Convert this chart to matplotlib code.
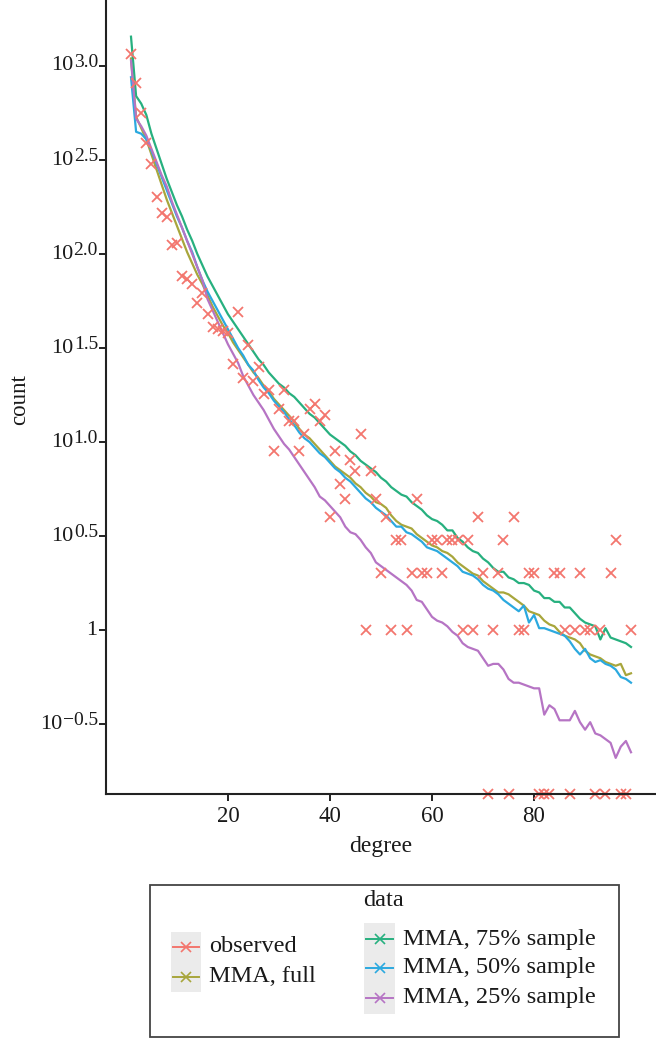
import numpy as np
import matplotlib
matplotlib.use("Agg")
import matplotlib.pyplot as plt
from matplotlib.lines import Line2D
from matplotlib.patches import Rectangle
from matplotlib.transforms import ScaledTranslation

# ---------------- data ----------------
degree = list(range(1, 100))

observed = [1160, 815, 560, 388, 300, 202, 165, 157, 112, 114,
            76, 74, 69, 55, 62, 48, 41, 40, 39, 38,
            26, 49, 22, 33, 21, 25, 18, 19, 9, 15,
            19, 13, 13, 9, 11, 15, 16, 13, 14, 4,
            9, 6, 5, 8, 7, 11, 1, 7, 5, 2,
            4, 1, 3, 3, 1, 2, 5, 2, 2, 3,
            3, 2, 3, 3, 3, 1, 3, 1, 4, 2,
            0, 1, 2, 3, 0, 4, 1, 1, 2, 2,
            0, 0, 0, 2, 2, 1, 0, 1, 2, 1,
            1, 0, 1, 0, 2, 3, 0, 0, 1]

# model expectations, log10(count)
mma_full_log10 = [3.04, 2.73, 2.67, 2.61, 2.53, 2.45, 2.37, 2.29, 2.22, 2.15,
                  2.08, 2.01, 1.95, 1.89, 1.84, 1.78, 1.72, 1.67, 1.62, 1.58,
                  1.53, 1.49, 1.45, 1.41, 1.37, 1.34, 1.30, 1.27, 1.23, 1.20,
                  1.17, 1.14, 1.11, 1.07, 1.04, 1.02, 0.99, 0.96, 0.93, 0.90,
                  0.87, 0.85, 0.83, 0.81, 0.78, 0.76, 0.73, 0.71, 0.68, 0.67,
                  0.65, 0.61, 0.58, 0.56, 0.55, 0.54, 0.51, 0.49, 0.47, 0.45,
                  0.44, 0.42, 0.41, 0.39, 0.36, 0.34, 0.32, 0.30, 0.29, 0.26,
                  0.24, 0.22, 0.20, 0.20, 0.19, 0.17, 0.15, 0.13, 0.10, 0.09,
                  0.08, 0.05, 0.03, 0.02, -0.01, -0.03, -0.04, -0.05, -0.07, -0.11,
                  -0.13, -0.14, -0.15, -0.17, -0.18, -0.19, -0.18, -0.24, -0.23]

mma_75_log10 = [3.156, 2.84, 2.80, 2.74, 2.64, 2.56, 2.48, 2.40, 2.33, 2.26,
                2.20, 2.13, 2.07, 2.00, 1.94, 1.88, 1.83, 1.78, 1.73, 1.68,
                1.64, 1.60, 1.56, 1.52, 1.48, 1.44, 1.41, 1.37, 1.34, 1.31,
                1.29, 1.26, 1.24, 1.21, 1.18, 1.15, 1.13, 1.10, 1.07, 1.04,
                1.02, 1.00, 0.98, 0.95, 0.93, 0.90, 0.88, 0.86, 0.84, 0.81,
                0.79, 0.76, 0.74, 0.72, 0.71, 0.68, 0.66, 0.64, 0.61, 0.59,
                0.58, 0.56, 0.53, 0.53, 0.49, 0.47, 0.44, 0.42, 0.41, 0.38,
                0.36, 0.33, 0.31, 0.31, 0.28, 0.27, 0.25, 0.25, 0.24, 0.21,
                0.20, 0.17, 0.17, 0.15, 0.15, 0.12, 0.12, 0.09, 0.06, 0.04,
                0.03, 0.02, -0.05, 0.01, -0.04, -0.05, -0.06, -0.07, -0.09]

mma_50_log10 = [2.94, 2.65, 2.64, 2.61, 2.55, 2.48, 2.41, 2.34, 2.27, 2.20,
                2.14, 2.07, 2.01, 1.93, 1.86, 1.80, 1.75, 1.70, 1.65, 1.60,
                1.55, 1.50, 1.46, 1.41, 1.38, 1.33, 1.29, 1.26, 1.22, 1.19,
                1.16, 1.12, 1.09, 1.05, 1.02, 1.00, 0.97, 0.94, 0.92, 0.89,
                0.86, 0.84, 0.81, 0.79, 0.76, 0.73, 0.70, 0.68, 0.65, 0.63,
                0.61, 0.58, 0.55, 0.55, 0.52, 0.51, 0.49, 0.47, 0.44, 0.43,
                0.42, 0.40, 0.38, 0.36, 0.34, 0.31, 0.30, 0.29, 0.27, 0.24,
                0.22, 0.21, 0.19, 0.16, 0.14, 0.12, 0.10, 0.13, 0.04, 0.08,
                0.01, 0.01, 0.00, -0.01, -0.02, -0.03, -0.06, -0.10, -0.13, -0.10,
                -0.15, -0.17, -0.16, -0.18, -0.19, -0.21, -0.25, -0.26, -0.28]

mma_25_log10 = [3.03, 2.72, 2.68, 2.63, 2.56, 2.49, 2.42, 2.36, 2.28, 2.21,
                2.14, 2.07, 2.00, 1.93, 1.86, 1.76, 1.70, 1.64, 1.58, 1.52,
                1.47, 1.42, 1.35, 1.30, 1.25, 1.21, 1.17, 1.12, 1.07, 1.03,
                0.99, 0.96, 0.92, 0.88, 0.84, 0.80, 0.76, 0.71, 0.69, 0.66,
                0.63, 0.60, 0.55, 0.52, 0.51, 0.48, 0.44, 0.41, 0.36, 0.34,
                0.32, 0.30, 0.28, 0.26, 0.24, 0.21, 0.16, 0.15, 0.11, 0.07,
                0.05, 0.04, 0.02, -0.01, -0.03, -0.07, -0.09, -0.10, -0.11, -0.15,
                -0.19, -0.18, -0.18, -0.21, -0.26, -0.28, -0.28, -0.29, -0.30, -0.31,
                -0.31, -0.45, -0.40, -0.42, -0.48, -0.48, -0.48, -0.43, -0.49, -0.53,
                -0.49, -0.55, -0.56, -0.58, -0.60, -0.68, -0.62, -0.59, -0.65]

series_labels = ["observed", "MMA, full", "MMA, 75% sample", "MMA, 50% sample", "MMA, 25% sample"]
series_colors = ["#F3766E", "#A8A63C", "#27B07F", "#2BA9DF", "#B674C4"]

xticks = [20, 40, 60, 80]
ytick_exp = [-0.5, 0.0, 0.5, 1.0, 1.5, 2.0, 2.5, 3.0]
ytick_sup = ["\u22120.5", None, "0.5", "1.0", "1.5", "2.0", "2.5", "3.0"]

# ---------------- style ----------------
plt.rcParams["font.family"] = ["Liberation Serif", "DejaVu Serif"]
TXT = "#1a1a1a"

W, H = 656, 1038
fig = plt.figure(figsize=(W / 100, H / 100), dpi=100)
ax = fig.add_axes([106 / W, 1 - 794 / H, 1 - 106 / W, 794 / H])

ymin, ymax = 10 ** -0.872, 10 ** 3.351
ax.set_yscale("log")
ax.set_xlim(-3.9, 103.9)
ax.set_ylim(ymin, ymax)

x = np.array(degree)
lw = 1.6
models = [mma_full_log10, mma_75_log10, mma_50_log10, mma_25_log10]
for vals, col in zip(models, series_colors[1:]):
    ax.plot(x, 10 ** np.array(vals), color=col, lw=lw, solid_joinstyle="round", zorder=2)

obs = np.array(observed, dtype=float)
obs_plot = np.where(obs > 0, obs, ymin)
ax.plot(x, obs_plot, linestyle="none", marker="x", markersize=7.5, mew=1.3,
        color=series_colors[0], clip_on=False, zorder=2.2)

for side in ["top", "right"]:
    ax.spines[side].set_visible(False)
for side in ["left", "bottom"]:
    ax.spines[side].set_linewidth(1.5)
    ax.spines[side].set_color("#222222")
    ax.spines[side].set_zorder(2.5)

ax.set_xticks(xticks)
ax.set_xticklabels([str(t) for t in xticks])
ax.set_yticks([10 ** e for e in ytick_exp])
ax.set_yticklabels([])
ax.minorticks_off()
ax.tick_params(axis="both", which="major", length=5, width=1.4, color="#222222",
               labelsize=16.5, labelcolor=TXT, pad=4)

ax.set_xlabel("degree", fontsize=17, color=TXT, labelpad=6)

# y tick labels: "10" with raised exponent
ytr = ax.get_yaxis_transform()
dpi_tr = fig.dpi_scale_trans
fig.canvas.draw()
renderer = fig.canvas.get_renderer()
ax_left_px = ax.get_window_extent(renderer).x0
for e, sup in zip(ytick_exp, ytick_sup):
    yv = 10 ** e
    if sup is None:
        ax.text(0, yv, "1", fontsize=16, color=TXT, ha="right", va="center",
                transform=ytr + ScaledTranslation(-9 / 100, 0, dpi_tr))
        continue
    t_sup = ax.text(0, yv, sup, fontsize=14, color=TXT, ha="right", va="baseline",
                    transform=ytr + ScaledTranslation(-8 / 100, -1 / 100, dpi_tr))
    bb = t_sup.get_window_extent(renderer)
    dx = (bb.x0 - ax_left_px - 0.5) / 100
    ax.text(0, yv, "10", fontsize=16, color=TXT, ha="right", va="center",
            transform=ytr + ScaledTranslation(dx, 0, dpi_tr))

fig.text(20 / W, 1 - 400 / H, "count", fontsize=16.5, color=TXT, rotation=90,
         ha="center", va="center")

# ---------------- legend (manual layout) ----------------
def fx(px):
    return px / W

def fy(py):
    return 1 - py / H

fig.patches.append(Rectangle((fx(150), fy(1037)), fx(619) - fx(150), fy(885) - fy(1037),
                             transform=fig.transFigure, facecolor="white",
                             edgecolor="#444444", lw=1.3))
fig.text(fx(363), fy(901), "data", fontsize=17.5, ha="left", va="center", color=TXT)

fig.patches.append(Rectangle((fx(171), fy(992)), fx(201) - fx(171), fy(932) - fy(992),
                             transform=fig.transFigure, facecolor="#EBEBEB", edgecolor="none"))
fig.patches.append(Rectangle((fx(364), fy(1014)), fx(395) - fx(364), fy(923) - fy(1014),
                             transform=fig.transFigure, facecolor="#EBEBEB", edgecolor="none"))

left_items = [(0, 947), (1, 977)]
right_items = [(2, 939), (3, 968), (4, 998)]
for (idx, py), (kx0, kx1, tx) in [(it, (173, 199, 209)) for it in left_items] + \
                                  [(it, (366, 393, 403)) for it in right_items]:
    col = series_colors[idx]
    fig.lines.append(Line2D([fx(kx0), fx(kx1)], [fy(py), fy(py)], transform=fig.transFigure,
                            color=col, lw=1.4))
    fig.lines.append(Line2D([fx((kx0 + kx1) / 2)], [fy(py)], transform=fig.transFigure,
                            color=col, marker="x", markersize=7, mew=1.2, linestyle="none"))
    fig.text(fx(tx), fy(py), series_labels[idx], fontsize=17.5, ha="left", va="center",
             color=TXT)

fig.savefig("out.png", dpi=100, facecolor="white")
